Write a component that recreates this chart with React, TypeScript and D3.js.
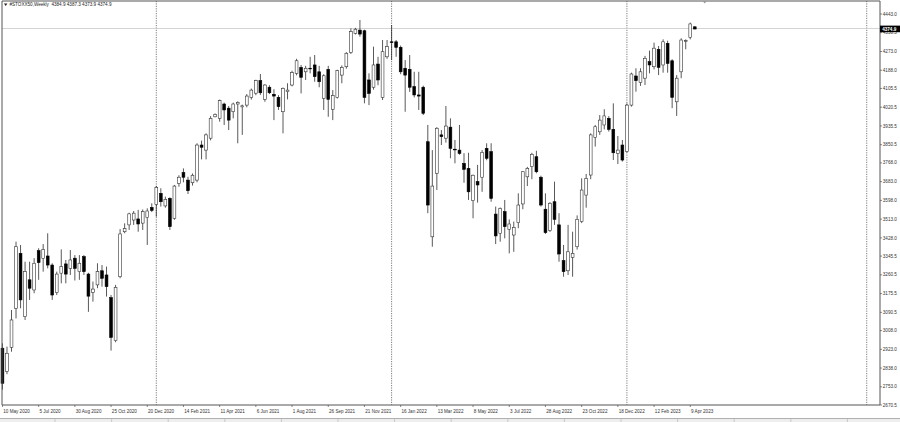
import React from 'react';
import * as d3 from "d3";

// weekly bars, first one is the week of 10 May 2020
const opens = [
    2928, 2822, 2932, 3109, 3358, 3071, 3238, 3192, 3370, 3335,
    3346, 3305, 3180, 3268, 3310, 3290, 3336, 3275, 3343, 3264,
    3181, 3215, 3279, 3260, 3157, 2962, 3252, 3456, 3487, 3509,
    3514, 3495, 3520, 3566, 3580, 3630, 3573, 3607, 3517, 3675,
    3724, 3690, 3678, 3690, 3849, 3826, 3880, 3977, 3970, 4035,
    4016, 4000, 4035, 4022, 4030, 4065, 4084, 4141, 4056, 4111,
    4079, 4065, 4000, 4091, 4121, 4174, 4201, 4181, 4197, 4212,
    4181, 4061, 4192, 4011, 4065, 4166, 4204, 4268, 4355, 4370,
    4367, 4144, 4111, 4216, 4065, 4249, 4317, 4317, 4292, 4197,
    4192, 4114, 4076, 4111, 3864, 3433, 3721, 3895, 3880, 3930,
    3830, 3826, 3766, 3743, 3597, 3683, 3703, 3834, 3819, 3536,
    3449, 3547, 3467, 3441, 3497, 3582, 3705, 3751, 3796, 3703,
    3558, 3461, 3592, 3487, 3325, 3279, 3340, 3388, 3502, 3622,
    3713, 3884, 3909, 3940, 3970, 3920, 3811, 3849, 3819, 4030,
    4162, 4132, 4152, 4227, 4204, 4283, 4212, 4310, 4231, 4045,
    4181, 4320, 4337, 4384.9,
];
const highs = [
    2950, 2935, 3101, 3411, 3396, 3320, 3320, 3336, 3381, 3400,
    3449, 3313, 3275, 3376, 3328, 3373, 3350, 3350, 3350, 3270,
    3230, 3313, 3305, 3298, 3169, 3215, 3468, 3494, 3542, 3550,
    3555, 3557, 3562, 3585, 3663, 3653, 3615, 3612, 3668, 3712,
    3743, 3705, 3720, 3857, 3869, 3902, 3980, 3992, 4055, 4041,
    4026, 4041, 4047, 4032, 4080, 4105, 4145, 4171, 4125, 4120,
    4102, 4075, 4110, 4129, 4186, 4240, 4212, 4208, 4249, 4257,
    4208, 4170, 4208, 4098, 4190, 4210, 4270, 4378, 4380, 4416,
    4372, 4174, 4295, 4249, 4325, 4325, 4393, 4325, 4300, 4234,
    4257, 4181, 4181, 4118, 3940, 3826, 3930, 3917, 4026, 3970,
    3872, 3940, 3812, 3814, 3715, 3759, 3826, 3857, 3857, 3570,
    3566, 3600, 3512, 3502, 3630, 3730, 3750, 3814, 3823, 3710,
    3630, 3590, 3683, 3540, 3396, 3487, 3456, 3530, 3698, 3718,
    3902, 3940, 3985, 4011, 3980, 4038, 3890, 3872, 4038, 4177,
    4197, 4197, 4253, 4277, 4313, 4298, 4328, 4322, 4238, 4166,
    4333, 4328, 4404, 4387.3,
];
const lows = [
    2740, 2810, 2912, 3063, 3109, 3056, 3147, 3177, 3238, 3275,
    3290, 3147, 3169, 3222, 3222, 3260, 3235, 3238, 3260, 3093,
    3139, 3200, 3207, 3162, 2917, 2955, 3245, 3449, 3464, 3487,
    3456, 3464, 3396, 3545, 3524, 3570, 3565, 3464, 3510, 3660,
    3680, 3627, 3665, 3680, 3784, 3784, 3870, 3975, 3955, 3940,
    3917, 3970, 3857, 3895, 4020, 4055, 4075, 4076, 4045, 4080,
    3962, 4008, 3902, 4056, 4115, 4165, 4083, 4144, 4174, 4136,
    4111, 4008, 3977, 3962, 4060, 4129, 4195, 4262, 4350, 4340,
    4038, 4030, 4100, 4120, 4053, 4240, 4234, 4249, 4170, 4000,
    4090, 4065, 4008, 3985, 3540, 3388, 3645, 3849, 3860, 3789,
    3766, 3805, 3678, 3600, 3517, 3588, 3637, 3780, 3592, 3400,
    3411, 3426, 3358, 3365, 3472, 3558, 3663, 3694, 3721, 3570,
    3446, 3455, 3487, 3320, 3252, 3260, 3252, 3375, 3495, 3565,
    3694, 3842, 3895, 3920, 3910, 3781, 3763, 3774, 3815, 4023,
    4091, 4117, 4121, 4174, 4192, 4166, 4177, 4177, 4016, 3981,
    4152, 4283, 4328, 4373.9,
];
const closes = [
    2769, 2905, 3056, 3388, 3147, 3275, 3200, 3313, 3316, 3376,
    3305, 3169, 3264, 3298, 3264, 3328, 3290, 3313, 3275, 3164,
    3196, 3275, 3245, 3207, 2977, 3204, 3446, 3470, 3537, 3540,
    3491, 3547, 3550, 3553, 3657, 3592, 3603, 3479, 3663, 3703,
    3703, 3642, 3712, 3849, 3839, 3895, 3970, 3988, 4050, 4008,
    3962, 4035, 4042, 4027, 4071, 4098, 4141, 4086, 4121, 4086,
    4071, 4023, 4106, 4098, 4177, 4231, 4156, 4197, 4196, 4159,
    4136, 4163, 4056, 4073, 4186, 4201, 4265, 4363, 4374, 4352,
    4065, 4083, 4212, 4144, 4272, 4295, 4313, 4292, 4181, 4166,
    4111, 4076, 4071, 3993, 3577, 3663, 3925, 3887, 3935, 3834,
    3827, 3811, 3739, 3637, 3712, 3668, 3816, 3789, 3607, 3437,
    3562, 3479, 3491, 3476, 3577, 3728, 3743, 3807, 3728, 3577,
    3452, 3585, 3512, 3355, 3275, 3365, 3358, 3512, 3645, 3698,
    3895, 3932, 3962, 3981, 3920, 3814, 3826, 3781, 4030, 4171,
    4141, 4181, 4242, 4212, 4288, 4201, 4317, 4219, 4065, 4152,
    4325, 4322, 4398, 4374.9,
];

const priceTicks = [
    "4443.0", "4358.5", "4273.0", "4188.0", "4105.5", "4020.5", "3935.5", "3850.5",
    "3768.0", "3683.0", "3598.0", "3513.0", "3428.0", "3345.5", "3260.5", "3175.5",
    "3090.5", "3008.0", "2923.0", "2838.0", "2753.0", "2670.5",
];
// one label every 8 bars
const dateLabels = [
    "10 May 2020", "5 Jul 2020", "30 Aug 2020", "25 Oct 2020", "20 Dec 2020",
    "14 Feb 2021", "11 Apr 2021", "6 Jun 2021", "1 Aug 2021", "26 Sep 2021",
    "21 Nov 2021", "16 Jan 2022", "13 Mar 2022", "8 May 2022", "3 Jul 2022",
    "28 Aug 2022", "23 Oct 2022", "18 Dec 2022", "12 Feb 2023", "9 Apr 2023",
];
const yearSeparators = [34, 86, 138, 191]; // bar index of first week of each year

const title = "#STOXX50,Weekly  4384.9 4387.3 4373.9 4374.9";
const bid = 4374.9;

const W = 900;
const H = 422;
const left = 2;
const top = 1;
const axisX = 880;
const bottom = 405;
const font = "'Liberation Sans', Arial, sans-serif";

const App = () => {
    const x = d3.scaleLinear().domain([0, 1]).range([2.45, 2.45 + 4.525]);
    const y = d3.scaleLinear().domain([2670.5, 4443]).range([bottom, 14]);

    const bars = opens.map((o, i) => ({
        i, o, h: highs[i], l: lows[i], c: closes[i],
    }));
    const bodyW = 2.8;

    return (
        <div style={{position: "fixed", left: 0, top: 0}}>
            <svg width={W} height={H} style={{display: "block", background: "white"}}>
                <rect x={0} y={0} width={W} height={H} fill="white"/>

                {/* year separators */}
                {yearSeparators.map(b =>
                    <line key={b} x1={x(b)} x2={x(b)} y1={top} y2={bottom}
                          stroke="#444" strokeWidth={0.7} strokeDasharray="1.2,1.2"/>
                )}

                {/* bid line */}
                <line x1={left} x2={axisX} y1={y(bid) - 0.5} y2={y(bid) - 0.5}
                      stroke="#c8c8c8" strokeWidth={0.8}/>

                {/* candles */}
                {bars.map(d => {
                    const cx = x(d.i);
                    const up = d.c >= d.o;
                    const yt = y(Math.max(d.o, d.c));
                    const yb = y(Math.min(d.o, d.c));
                    return (
                        <g key={d.i}>
                            <line x1={cx} x2={cx} y1={y(d.h)} y2={y(d.l)}
                                  stroke="#111" strokeWidth={0.7}/>
                            <rect x={cx - bodyW / 2} y={yt} width={bodyW}
                                  height={Math.max(0.6, yb - yt)}
                                  fill={up ? "white" : "black"}
                                  stroke={up ? "#333" : "black"} strokeWidth={0.6}/>
                        </g>
                    );
                })}

                {/* frame */}
                <line x1={left} x2={axisX} y1={top} y2={top} stroke="#555" strokeWidth={1}/>
                <line x1={left} x2={left} y1={top} y2={bottom} stroke="#555" strokeWidth={1}/>
                <line x1={axisX} x2={axisX} y1={top} y2={bottom} stroke="#555" strokeWidth={1}/>
                <line x1={left} x2={axisX} y1={bottom} y2={bottom} stroke="#555" strokeWidth={1}/>

                {/* shift marker */}
                <path d={`M${x(155.2) - 2},${top} L${x(155.2) + 2},${top} L${x(155.2)},${top + 2.5} Z`}
                      fill="#999"/>

                {/* price axis */}
                {priceTicks.map(t => {
                    const ty = y(+t);
                    return (
                        <g key={t}>
                            <line x1={axisX} x2={axisX + 2} y1={ty} y2={ty} stroke="#555" strokeWidth={0.7}/>
                            <text x={axisX + 2.8} y={ty + 1.6} fontSize={4.6} fontFamily={font}
                                  fill="#333">{t}</text>
                        </g>
                    );
                })}
                <rect x={axisX} y={y(bid) - 3.4} width={W - axisX} height={6.6} fill="black"/>
                <text x={axisX + 2.2} y={y(bid) + 1.6} fontSize={4.6} fontFamily={font}
                      fill="white" fontWeight="bold">{bid.toFixed(1)}</text>

                {/* time axis */}
                {dateLabels.map((t, k) => {
                    const tx = x(k * 8);
                    return (
                        <g key={t}>
                            <line x1={tx} x2={tx} y1={bottom} y2={bottom + 2} stroke="#555" strokeWidth={0.7}/>
                            <text x={tx + 0.8} y={bottom + 8} fontSize={4.6} fontFamily={font}
                                  fill="#333">{t}</text>
                        </g>
                    );
                })}

                {/* title */}
                <path d="M4,3.6 L7.4,3.6 L5.7,6 Z" fill="#222"/>
                <text x={9.5} y={6.4} fontSize={4.6} fontFamily={font} fill="#222"
                      style={{whiteSpace: "pre"}}>{title}</text>

                {/* window tabs strip */}
                <rect x={0} y={418} width={W} height={H - 418} fill="#eeeeee"/>
                <line x1={0} x2={W} y1={418.5} y2={418.5} stroke="#b0b0b0" strokeWidth={1}/>
                {d3.range(55, W, 56.6).map(sx =>
                    <line key={sx} x1={sx} x2={sx} y1={419} y2={H} stroke="#c0c0c0" strokeWidth={0.8}/>
                )}
            </svg>
        </div>
    );
};

export default App;
